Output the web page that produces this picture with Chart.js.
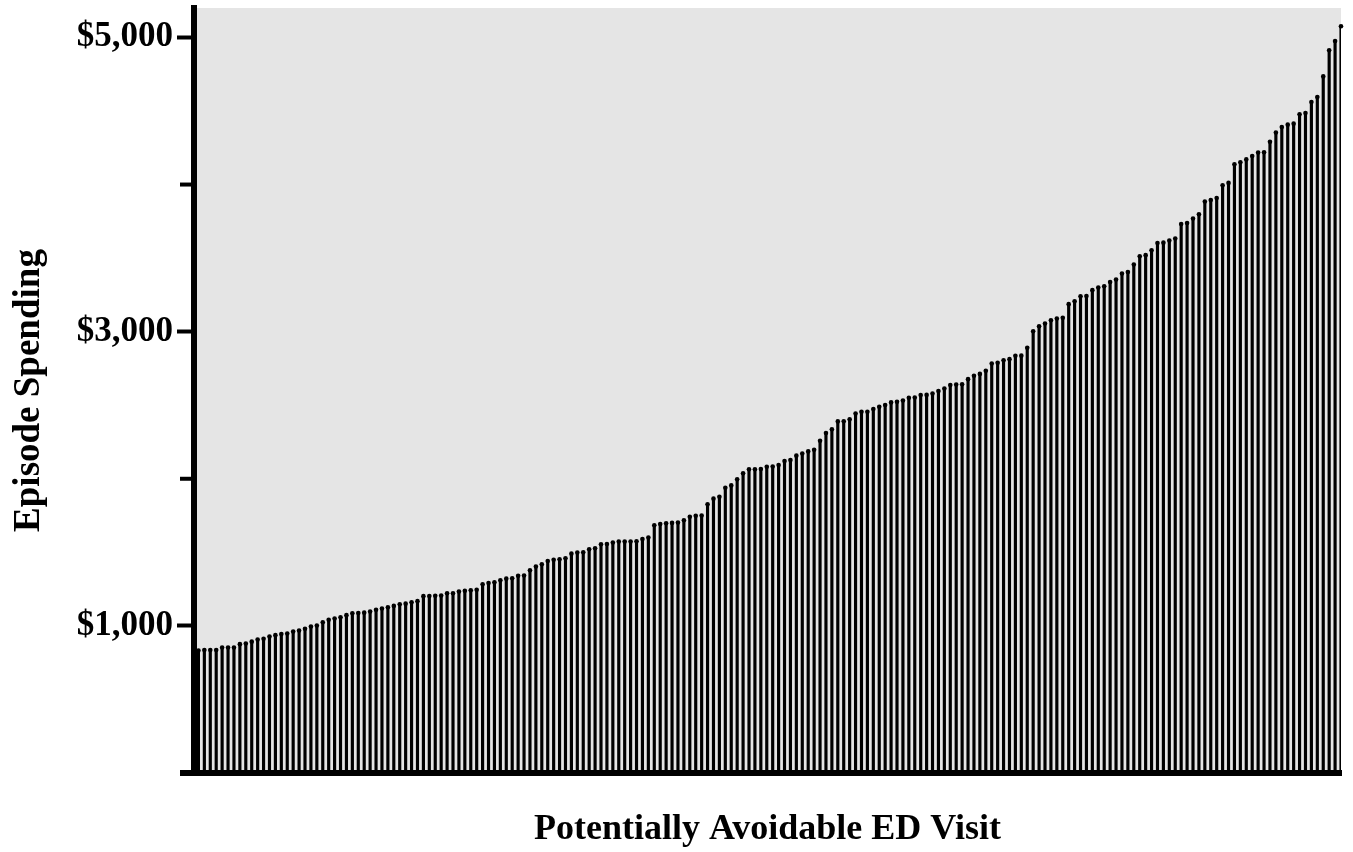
<!DOCTYPE html>
<html>
<head>
<meta charset="utf-8">
<script src="https://cdn.jsdelivr.net/npm/chart.js@4"></script>
<style>
  body { margin: 0; background: #fff; }
</style>
</head>
<body>
<canvas id="chart" width="1353" height="852"></canvas>
<script>
// episode spending per potentially avoidable ED visit, sorted low to high
const spending = [
  832, 836, 836, 836, 853, 853, 853, 876, 880, 893, 907, 912, 927, 937, 944, 948, 961, 968, 980, 995,
  1002, 1025, 1041, 1050, 1059, 1073, 1086, 1088, 1090, 1097, 1109, 1118, 1127, 1136, 1147, 1151, 1161, 1168,
  1202, 1203, 1204, 1206, 1222, 1222, 1233, 1238, 1242, 1245, 1283, 1292, 1297, 1310, 1321, 1324, 1340, 1342,
  1378, 1403, 1419, 1441, 1450, 1453, 1460, 1491, 1498, 1500, 1521, 1528, 1555, 1557, 1566, 1573, 1573, 1574,
  1575, 1591, 1600, 1684,
  1693, 1697, 1700, 1702, 1718, 1742, 1749, 1750, 1826, 1865, 1878, 1939, 1955, 1996, 2037, 2064, 2064, 2066,
  2082, 2083, 2093, 2121, 2127, 2157, 2172, 2186, 2197, 2258, 2311, 2336, 2390, 2391, 2404, 2444, 2455, 2456,
  2474, 2489, 2501, 2519, 2523, 2532, 2550,
  2552, 2569, 2570, 2580, 2596, 2614, 2637, 2641, 2642, 2677, 2700, 2713, 2734, 2784, 2788, 2806, 2813, 2836,
  2837, 2890, 3003, 3037, 3055, 3078, 3089, 3094, 3187, 3207, 3241, 3242, 3282, 3300, 3309, 3338, 3354, 3395,
  3406, 3456, 3513, 3520, 3553,
  3603, 3605, 3619, 3633, 3732, 3739, 3769, 3798,
  3885, 3895, 3909, 3995, 4011, 4138, 4151, 4171, 4194, 4217, 4219, 4291, 4353, 4391, 4407, 4414, 4477, 4486,
  4561, 4595, 4735, 4912, 4975, 5076
];
// one category per visit (visit number)
const visits = spending.map((v, i) => i);

const majorTicks = [1000, 3000, 5000];
const minorTicks = [2000, 4000];

const points = visits.map((x, i) => ({ x: x, y: spending[i] }));

const serif = "'Liberation Serif', 'Times New Roman', serif";

// gray panel behind the stems
const panelBg = {
  id: 'panelBg',
  beforeDraw(chart) {
    const { ctx, chartArea: a } = chart;
    ctx.save();
    ctx.fillStyle = '#e5e5e5';
    ctx.fillRect(a.left, a.top, a.right - a.left, a.bottom - a.top);
    ctx.restore();
  }
};

// short unlabeled ticks + the little stub of the x axis left of the y axis
const minorTickMarks = {
  id: 'minorTickMarks',
  afterDraw(chart) {
    const { ctx, chartArea: a } = chart;
    const y = chart.scales.y;
    const edge = a.left - 3;
    ctx.save();
    ctx.strokeStyle = '#000';
    ctx.lineWidth = 4;
    minorTicks.forEach(v => {
      const py = y.getPixelForValue(v);
      ctx.beginPath();
      ctx.moveTo(edge, py);
      ctx.lineTo(edge - 11, py);
      ctx.stroke();
    });
    ctx.lineWidth = 6;
    const p0 = y.getPixelForValue(0);
    ctx.beginPath();
    ctx.moveTo(a.left + 1, p0);
    ctx.lineTo(edge - 11, p0);
    ctx.stroke();
    ctx.restore();
  }
};

new Chart(document.getElementById('chart'), {
  type: 'bar',
  data: {
    datasets: [
      {
        type: 'line',
        data: points,
        showLine: false,
        pointRadius: 2.3,
        pointBackgroundColor: '#000',
        pointBorderWidth: 0,
        clip: false,
        order: 0
      },
      {
        data: points,
        backgroundColor: '#000',
        borderWidth: 0,
        barThickness: 2.5,
        order: 1
      }
    ]
  },
  options: {
    responsive: false,
    animation: false,
    layout: { padding: { top: 8, right: 12, bottom: 0, left: 0 } },
    plugins: {
      legend: { display: false },
      tooltip: { enabled: false }
    },
    scales: {
      x: {
        type: 'linear',
        min: -0.75,
        max: 193,
        offset: false,
        grid: { display: false, drawTicks: false, offset: false },
        border: { display: true, width: 6, color: '#000' },
        ticks: { display: false },
        title: {
          display: true,
          text: 'Potentially Avoidable ED Visit',
          color: '#000',
          font: { family: serif, size: 36, weight: 'bold' },
          padding: { top: 0, bottom: 1 }
        },
        afterFit(scale) {
          scale.height = 79;
          scale.paddingLeft = 0;
          scale.paddingRight = 0;
        }
      },
      y: {
        min: 0,
        max: 5200,
        afterBuildTicks(scale) {
          scale.ticks = majorTicks.map(v => ({ value: v }));
        },
        grid: {
          drawOnChartArea: false,
          drawTicks: true,
          tickLength: 17,
          tickWidth: 4,
          tickColor: '#000'
        },
        border: { display: true, width: 6, color: '#000' },
        ticks: {
          color: '#000',
          padding: 4,
          font: { family: serif, size: 35, weight: 'bold' },
          callback: v => '$' + v.toLocaleString('en-US')
        },
        title: {
          display: true,
          text: 'Episode Spending',
          color: '#000',
          font: { family: serif, size: 37, weight: 'bold' },
          padding: { top: 7, bottom: 0 }
        },
        afterFit(scale) {
          scale.width = 194;
          scale.paddingTop = 0;
          scale.paddingBottom = 0;
        }
      }
    }
  },
  plugins: [panelBg, minorTickMarks]
});
</script>
</body>
</html>
